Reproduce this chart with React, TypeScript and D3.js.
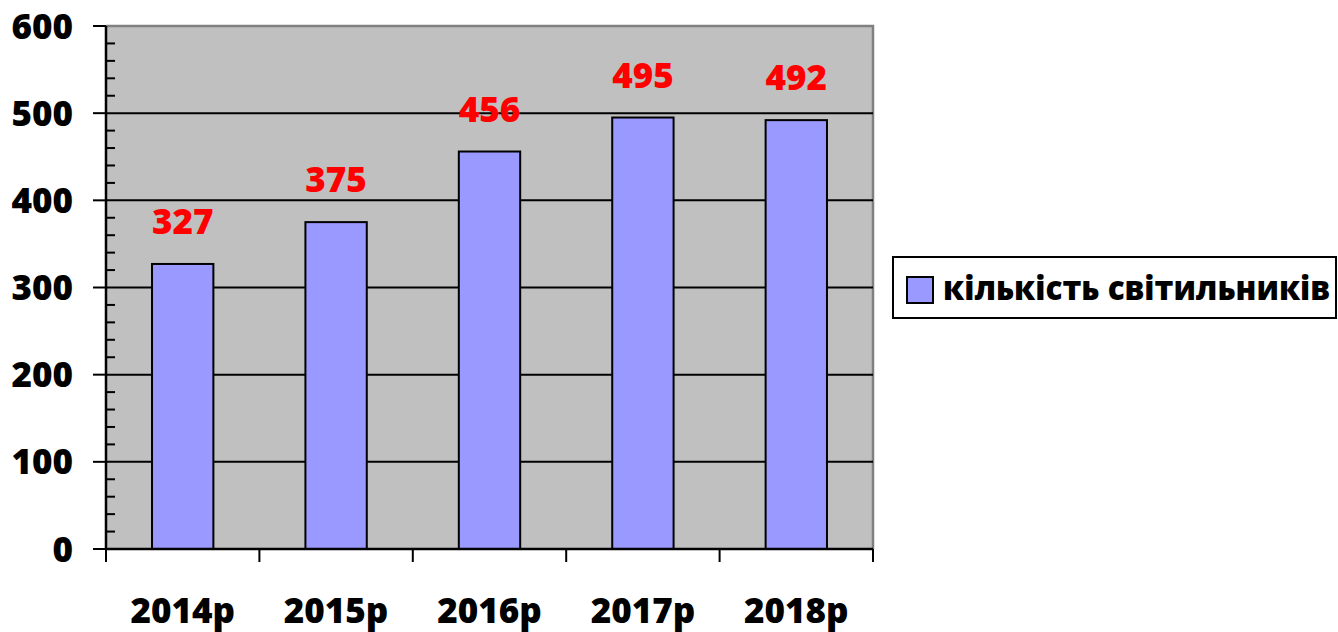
import React from "react";
import * as d3 from "d3";

const categories: string[] = ["2014р", "2015р", "2016р", "2017р", "2018р"];
const values: number[] = [327, 375, 456, 495, 492];
const yTicks: number[] = [0, 100, 200, 300, 400, 500, 600];
const seriesName = "кількість світильників";

const FONT = "'Open Sans', 'DejaVu Sans', sans-serif";
const WEIGHT = 800;

export default function App() {
  const W = 1338, H = 632;
  const left = 106, right = 873, top = 26, bottom = 549;
  const y = d3.scaleLinear().domain([0, 600]).range([bottom, top]);
  const x = d3.scaleBand<string>().domain(categories).range([left, right]).padding(0);
  const bw = x.bandwidth() * 0.4;
  const minor = d3.range(0, 601, 20).filter((v) => v % 100 !== 0);
  const bounds = d3.range(categories.length + 1).map((i) => left + i * x.step());

  return (
    <svg width={W} height={H} style={{ position: "absolute", left: 0, top: 0 }}>
      <rect x={left} y={top} width={right - left} height={bottom - top} fill="#C0C0C0" />
      <path d={`M${left},${top}H${right}V${bottom}`} fill="none" stroke="#808080" strokeWidth={2.5} />
      {yTicks.filter((v) => v > 0 && v < 600).map((v) => (
        <line key={v} x1={left} x2={right} y1={y(v)} y2={y(v)} stroke="#000" strokeWidth={2} />
      ))}
      {categories.map((c, i) => {
        const cx = (x(c) as number) + x.bandwidth() / 2;
        return (
          <g key={c}>
            <rect x={cx - bw / 2} y={y(values[i])} width={bw} height={bottom - y(values[i])}
              fill="#9999FF" stroke="#000" strokeWidth={2} />
            <text x={cx} y={y(values[i]) - 30} textAnchor="middle" fill="#FF0000"
              fontFamily={FONT} fontWeight={WEIGHT} fontSize={35}>{values[i]}</text>
            <text x={cx} y={623} textAnchor="middle" fill="#000"
              fontFamily={FONT} fontWeight={WEIGHT} fontSize={35}>{c}</text>
          </g>
        );
      })}
      <line x1={left} x2={left} y1={top} y2={bottom} stroke="#000" strokeWidth={2.5} />
      {yTicks.map((v) => (
        <g key={v}>
          <line x1={93} x2={left} y1={y(v)} y2={y(v)} stroke="#000" strokeWidth={2} />
          <text x={73} y={y(v)} dy="0.36em" textAnchor="end" fill="#000"
            fontFamily={FONT} fontWeight={WEIGHT} fontSize={35}>{v}</text>
        </g>
      ))}
      {minor.map((v) => (
        <line key={v} x1={left} x2={115} y1={y(v)} y2={y(v)} stroke="#000" strokeWidth={2} />
      ))}
      <line x1={left} x2={right} y1={bottom} y2={bottom} stroke="#000" strokeWidth={2.5} />
      {bounds.map((bx, i) => (
        <line key={i} x1={bx} x2={bx} y1={bottom} y2={562} stroke="#000" strokeWidth={2} />
      ))}
      <rect x={893} y={257} width={443} height={61} fill="#fff" stroke="#000" strokeWidth={2} />
      <rect x={907} y={277} width={26} height={26} fill="#9999FF" stroke="#000" strokeWidth={2} />
      <text x={943} y={300} fill="#000" fontFamily={FONT} fontWeight={WEIGHT} fontSize={33}
        textLength={387} lengthAdjust="spacingAndGlyphs">{seriesName}</text>
    </svg>
  );
}
